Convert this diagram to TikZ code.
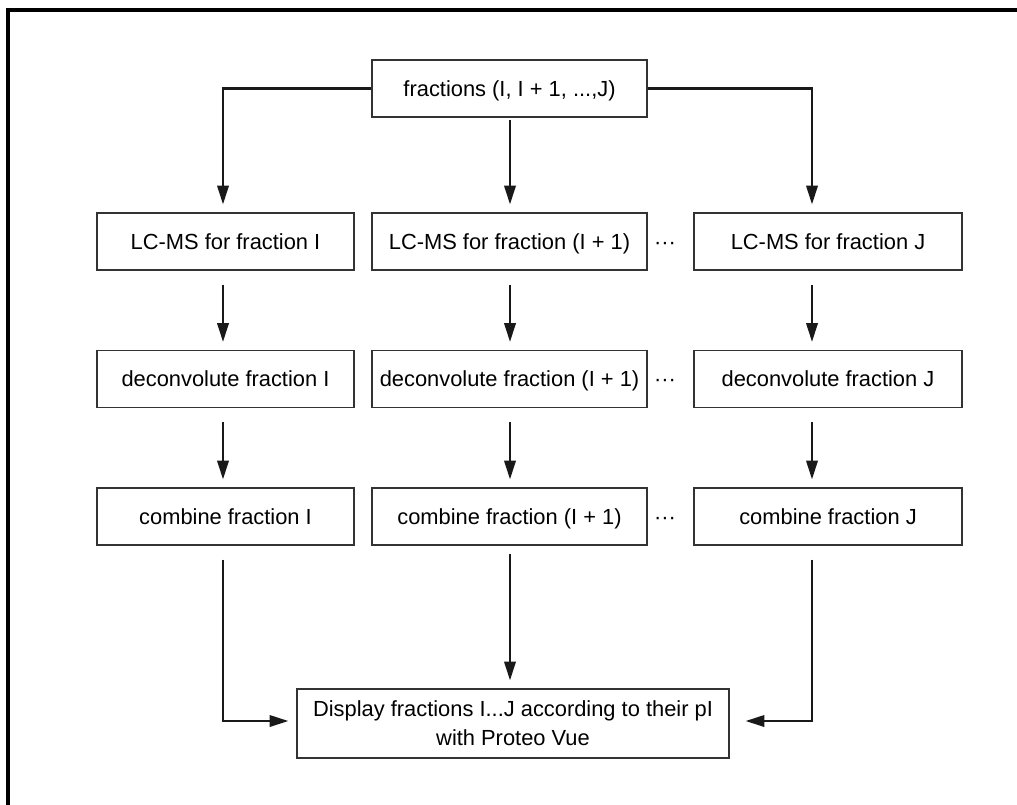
\documentclass[tikz,border=0pt]{standalone}
\usepackage{fontspec}
\setmainfont{Liberation Sans}
\usetikzlibrary{arrows.meta}
\begin{document}
\begin{tikzpicture}[x=0.75pt,y=-0.75pt,
  box/.style={draw=black!80,line width=0.9pt,inner sep=0pt,minimum height=42.75pt,
    font=\fontsize{16.4}{22}\selectfont,align=center},
  onebox/.style={box,text height=13.5pt,text depth=1.7pt},
  arr/.style={line width=1.7pt,draw=black!90,-{Triangle[length=14pt,width=8.5pt]},shorten >=6pt},
  dots/.style={font=\fontsize{16.4}{22}\selectfont,inner sep=0pt,text height=13.5pt,text depth=1.7pt}]
\useasboundingbox (0,0) rectangle (1017,804);
\draw[line width=2.3pt] (1020,10) -- (8,10) -- (8,808);
% column guides
\coordinate (cl) at (223,0);
\coordinate (cm) at (510,0);
\coordinate (cr) at (812,0);
% nodes
\node[onebox,minimum width=206.25pt] (top) at (509.5,88.5) {fractions (I, I + 1, ...,J)};
\node[onebox,minimum width=192.75pt] (l1) at (225.5,241.5) {LC-MS for fraction I};
\node[onebox,minimum width=206.25pt] (m1) at (509.5,241.5) {LC-MS for fraction (I + 1)};
\node[onebox,minimum width=201pt] (r1) at (828,241.5) {LC-MS for fraction J};
\node[onebox,minimum width=192.75pt] (l2) at (225.5,379) {deconvolute fraction I};
\node[onebox,minimum width=206.25pt] (m2) at (509.5,379) {deconvolute fraction (I + 1)};
\node[onebox,minimum width=201pt] (r2) at (828,379) {deconvolute fraction J};
\node[onebox,minimum width=192.75pt] (l3) at (225.5,516.5) {combine fraction I};
\node[onebox,minimum width=206.25pt] (m3) at (509.5,516.5) {combine fraction (I + 1)};
\node[onebox,minimum width=201pt] (r3) at (828,516.5) {combine fraction J};
\node[box,minimum width=324pt,minimum height=51.75pt] (disp) at (513,723.5)
  {Display fractions I...J according to their pI\\with Proteo Vue};
\node[dots] (d1) at (665,241.5) {···};
\node[dots] (d2) at (665,379) {···};
\node[dots] (d3) at (665,516.5) {···};
% top connectors
\draw[arr] (top.west) -| (l1.north -| cl);
\draw[arr] (top.east) -| (r1.north -| cr);
\draw[arr,shorten <=2pt] (top.south -| cm) -- (m1.north -| cm);
% row connectors
\foreach \a/\b in {l1/l2,l2/l3}{\draw[arr,shorten <=10.5pt] (\a.south -| cl) -- (\b.north -| cl);}
\foreach \a/\b in {m1/m2,m2/m3}{\draw[arr,shorten <=10.5pt] (\a.south -| cm) -- (\b.north -| cm);}
\foreach \a/\b in {r1/r2,r2/r3}{\draw[arr,shorten <=10.5pt] (\a.south -| cr) -- (\b.north -| cr);}
% bottom connectors
\coordinate (jl) at (223,721);
\coordinate (jr) at (812,721);
\draw[arr,shorten <=10.5pt] (l3.south -| cl) -- (jl) -- (jl -| disp.west);
\draw[arr,shorten <=6pt] (m3.south -| cm) -- (disp.north -| cm);
\draw[arr,shorten <=10.5pt,shorten >=12pt] (r3.south -| cr) -- (jr) -- (jr -| disp.east);
\end{tikzpicture}
\end{document}
